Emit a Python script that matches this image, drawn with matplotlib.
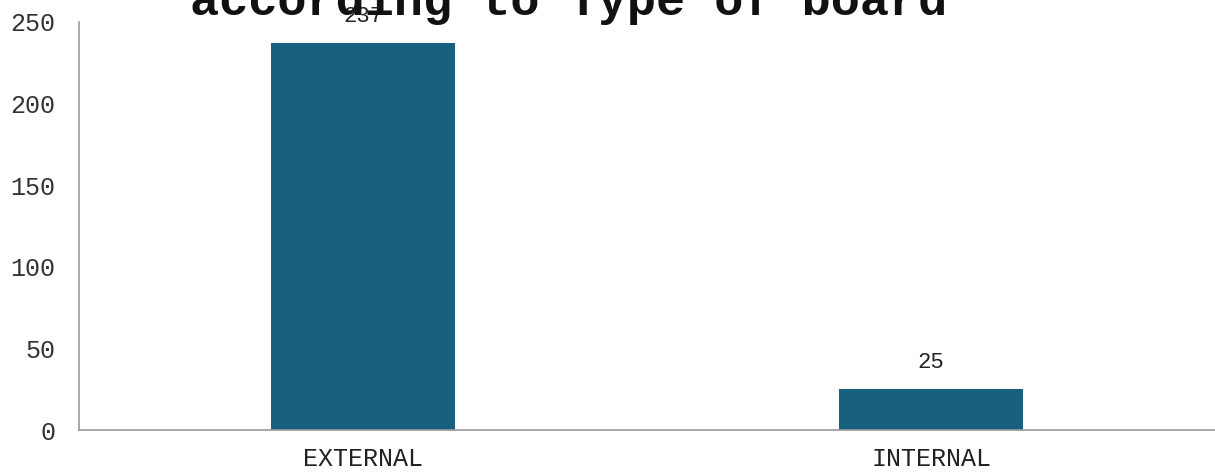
import matplotlib
matplotlib.use("Agg")
import matplotlib.pyplot as plt

categories = ["EXTERNAL", "INTERNAL"]
counts = [237, 25]
y_ticks = [0, 50, 100, 150, 200, 250]
title_text = "according to Type of board"

W, H, DPI = 1215, 472, 100
fig = plt.figure(figsize=(W / DPI, H / DPI), dpi=DPI)
ax = fig.add_axes([79 / W, 1 - 430 / H, (W - 79) / W, (430 - 22) / H])

bar_color = "#18607F"
mono = ["Liberation Mono", "DejaVu Sans Mono"]

x = list(range(len(categories)))
bars = ax.bar(x, counts, width=0.325, color=bar_color, zorder=2)
for b, v in zip(bars, counts):
    ax.annotate(str(v), (b.get_x() + b.get_width() / 2, v),
                xytext=(0, 12), textcoords="offset points",
                ha="center", va="bottom", fontsize=16, family=mono,
                color="#222222")

ax.set_xlim(-0.5, 1.5)
ax.set_ylim(0, 250)
ax.set_xticks(x)
ax.set_xticklabels(categories, family=mono, fontsize=18, color="#222222")
ax.set_yticks(y_ticks)
ax.set_yticklabels([str(t) for t in y_ticks], family=mono, fontsize=18,
                   color="#333333")
ax.tick_params(axis="both", length=0)
ax.tick_params(axis="x", pad=12)
ax.tick_params(axis="y", pad=17)

for side in ("top", "right"):
    ax.spines[side].set_visible(False)
for side in ("left", "bottom"):
    ax.spines[side].set_color("#999999")
    ax.spines[side].set_linewidth(1.2)

fig.text(190 / W, 1 - 15 / H, title_text, family=mono, fontweight="bold",
         fontsize=35, ha="left", va="baseline", color="#111111")

fig.savefig("out.png", dpi=DPI)
